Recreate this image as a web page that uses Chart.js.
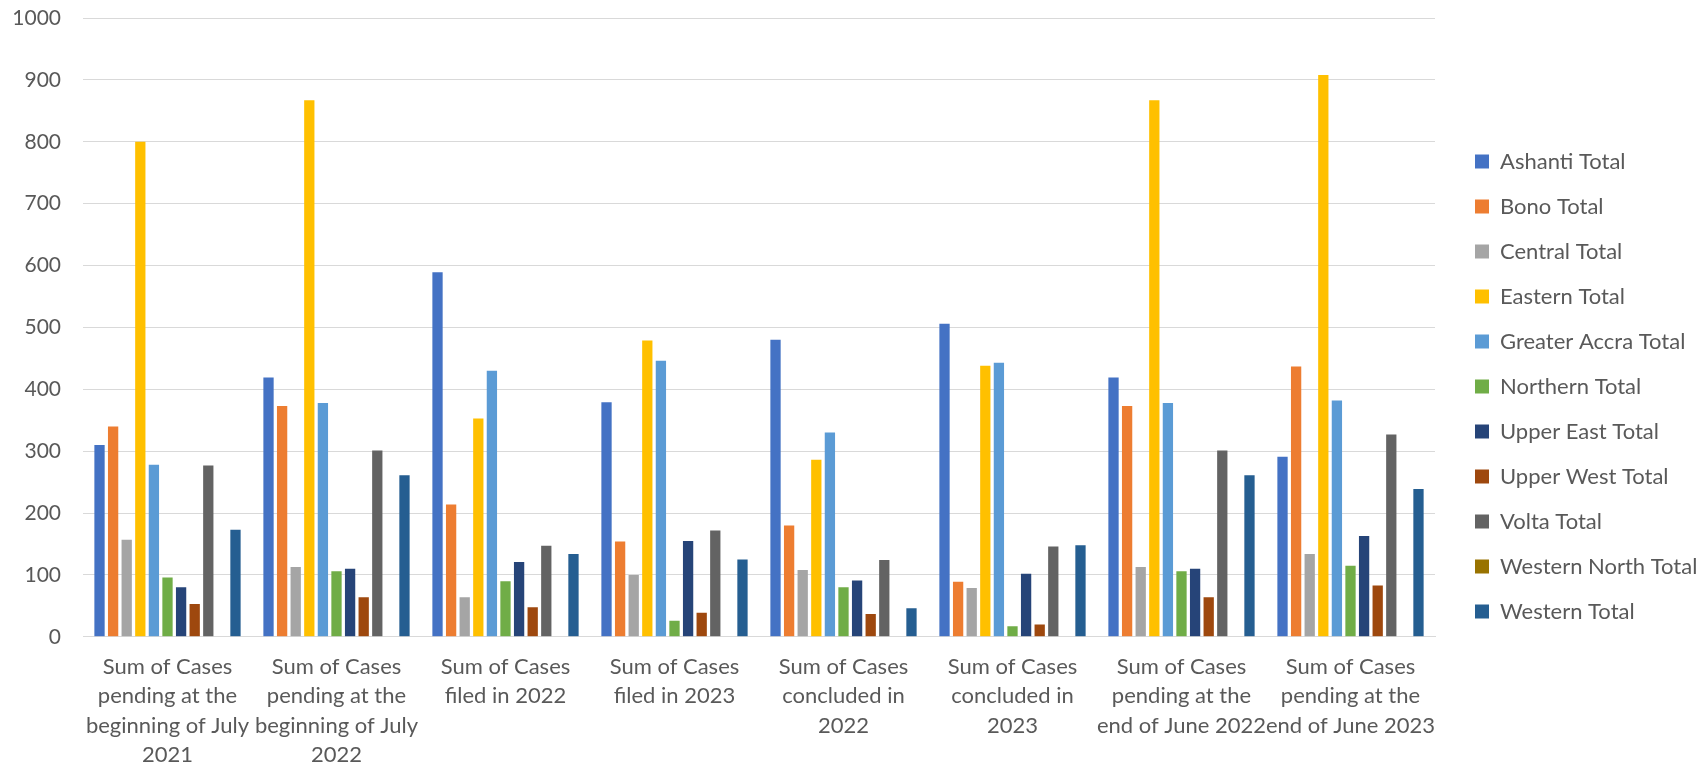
<!DOCTYPE html>
<html>
<head>
<meta charset="utf-8">
<script src="https://cdn.jsdelivr.net/npm/chart.js@4"></script>
<style>
  html, body { margin: 0; padding: 0; background: #ffffff; }
  .chart-container { width: 1706px; height: 767px; position: relative; }
</style>
</head>
<body>
<div class="chart-container"><canvas id="chart"></canvas></div>
<script>
// Categories (multi-line labels as shown under the axis)
const categories = [
  ['Sum of Cases', 'pending at the', 'beginning of July', '2021'],
  ['Sum of Cases', 'pending at the', 'beginning of July', '2022'],
  ['Sum of Cases', 'filed in 2022'],
  ['Sum of Cases', 'filed in 2023'],
  ['Sum of Cases', 'concluded in', '2022'],
  ['Sum of Cases', 'concluded in', '2023'],
  ['Sum of Cases', 'pending at the', 'end of June 2022'],
  ['Sum of Cases', 'pending at the', 'end of June 2023']
];

// Series values, one per region
const ashanti      = [310, 419, 589, 379, 480, 506, 419, 291];
const bono         = [340, 373, 214, 154, 180, 89, 373, 437];
const central      = [157, 113, 64, 100, 108, 79, 113, 134];
const eastern      = [800, 867, 353, 479, 286, 438, 867, 908];
const greaterAccra = [278, 378, 430, 446, 330, 443, 378, 382];
const northern     = [96, 106, 90, 26, 80, 17, 106, 115];
const upperEast    = [80, 110, 121, 155, 91, 102, 110, 163];
const upperWest    = [53, 64, 48, 39, 37, 20, 64, 83];
const volta        = [277, 301, 147, 172, 124, 146, 301, 327];
const westernNorth = [0, 0, 0, 0, 0, 0, 0, 0];
const western      = [173, 261, 134, 125, 46, 148, 261, 239];

// Y axis ticks
const yTicks = [0, 100, 200, 300, 400, 500, 600, 700, 800, 900, 1000];

const seriesNames = [
  'Ashanti Total', 'Bono Total', 'Central Total', 'Eastern Total',
  'Greater Accra Total', 'Northern Total', 'Upper East Total',
  'Upper West Total', 'Volta Total', 'Western North Total', 'Western Total'
];
const seriesValues = [
  ashanti, bono, central, eastern, greaterAccra, northern,
  upperEast, upperWest, volta, westernNorth, western
];
const seriesColors = [
  '#4472C4', '#ED7D31', '#A5A5A5', '#FFC000', '#5B9BD5', '#70AD47',
  '#264478', '#9E480E', '#636363', '#997300', '#255E91'
];

Chart.defaults.font.family = 'Lato, "Open Sans", sans-serif';
Chart.defaults.color = '#595959';

const ctx = document.getElementById('chart').getContext('2d');

new Chart(ctx, {
  type: 'bar',
  data: {
    labels: categories,
    datasets: seriesNames.map((name, i) => ({
      label: name,
      data: seriesValues[i],
      backgroundColor: seriesColors[i],
      borderWidth: 0,
      categoryPercentage: 0.885,
      barPercentage: 0.757
    }))
  },
  options: {
    responsive: true,
    maintainAspectRatio: false,
    animation: false,
    layout: {
      padding: { top: -12, left: 12, right: 0, bottom: -18 }
    },
    plugins: {
      title: { display: false },
      tooltip: { enabled: false },
      legend: {
        position: 'right',
        maxWidth: 254,
        labels: {
          boxWidth: 14,
          boxHeight: 14,
          padding: 23,
          color: '#595959',
          font: { size: 22 }
        }
      }
    },
    scales: {
      x: {
        grid: { display: false, drawTicks: false },
        border: { display: true, color: '#d9d9d9' },
        ticks: {
          color: '#595959',
          padding: 16,
          maxRotation: 0,
          autoSkip: false,
          font: { size: 22, lineHeight: 1.32 }
        }
      },
      y: {
        min: 0,
        max: 1000,
        grid: { color: '#d9d9d9', lineWidth: 1, drawTicks: false },
        border: { display: false },
        afterBuildTicks: (scale) => {
          scale.ticks = yTicks.map(v => ({ value: v }));
        },
        afterFit: (scale) => {
          scale.width = 71;
          scale.paddingTop = 18;
          scale.paddingBottom = 0;
        },
        ticks: {
          color: '#595959',
          padding: 22,
          font: { size: 21 },
          callback: (value) => String(value)
        }
      },
      // empty spacer between the plot and the legend
      spacer: {
        type: 'linear',
        position: 'right',
        display: true,
        grid: { display: false, drawTicks: false },
        border: { display: false },
        ticks: { display: false },
        afterFit: (scale) => {
          scale.width = 17;
        }
      }
    }
  }
});
</script>
</body>
</html>
